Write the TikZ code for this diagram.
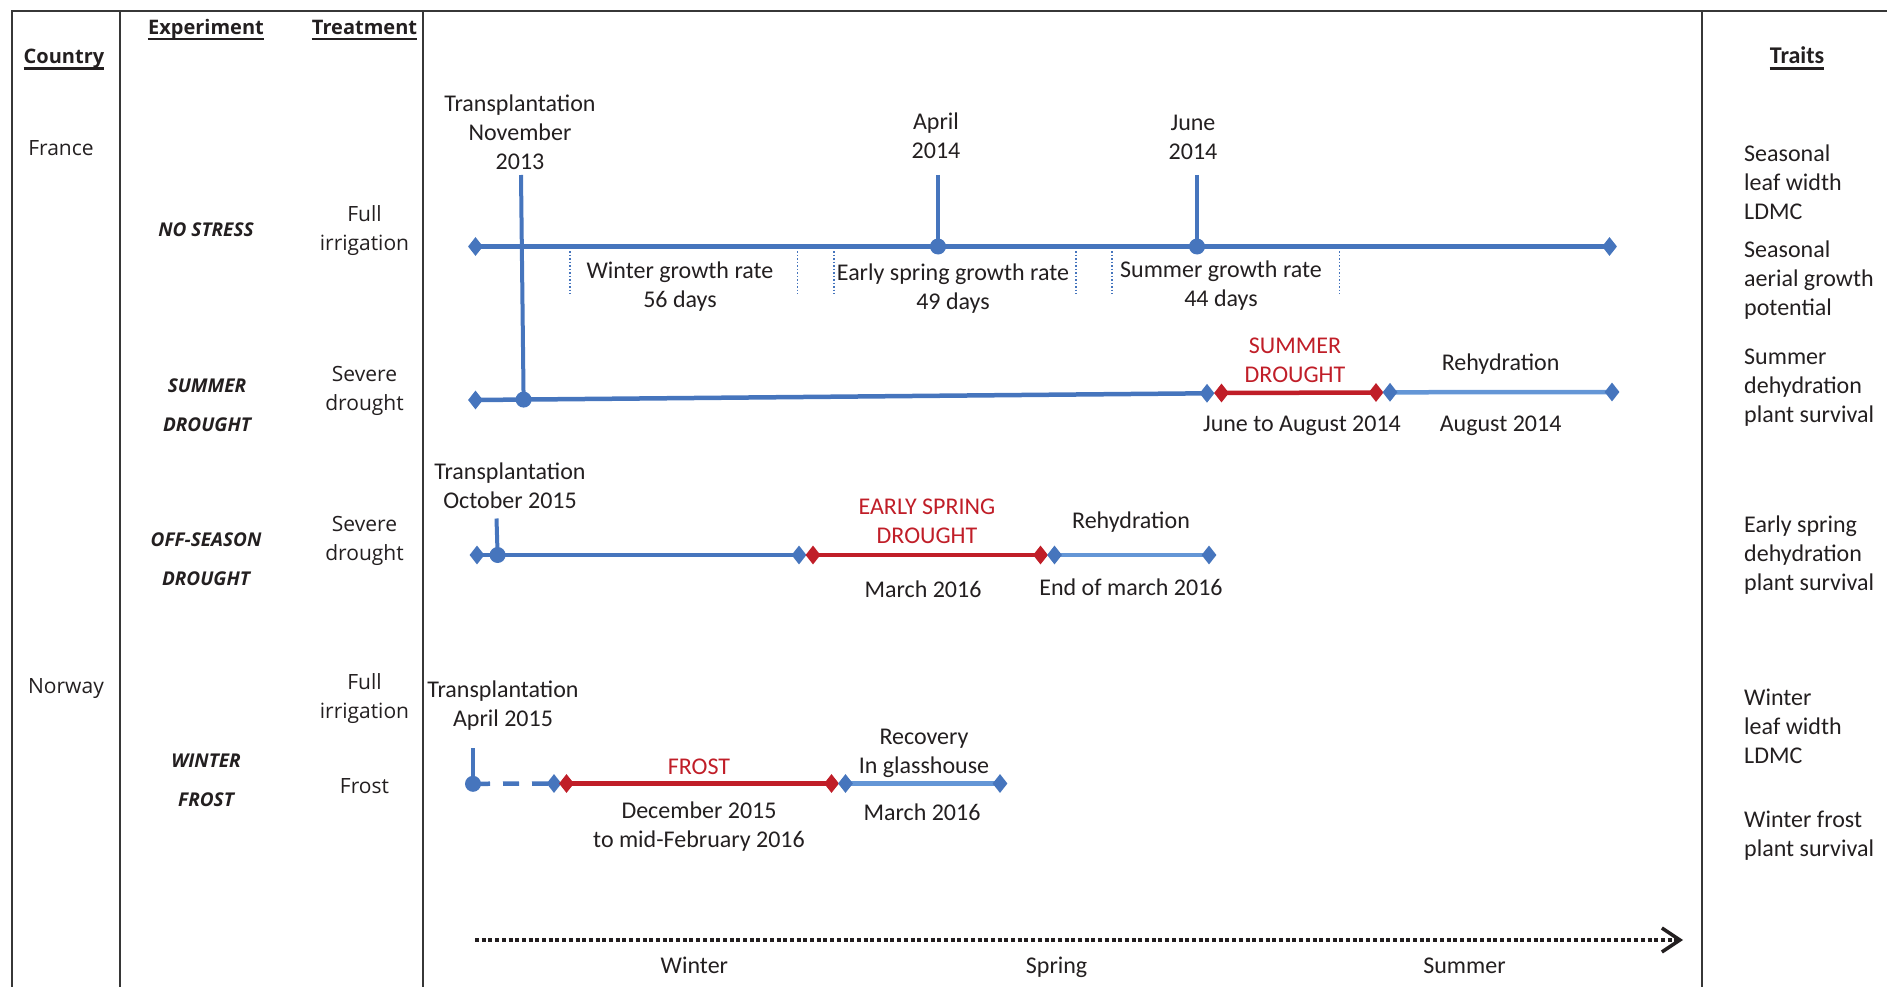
\documentclass[tikz,border=0pt]{standalone}
\usepackage{fontspec}
\setmainfont{Carlito}
\newfontfamily\osans{Open Sans}
\usetikzlibrary{shapes.geometric,arrows.meta,backgrounds}
\definecolor{tblue}{RGB}{70,117,189}
\definecolor{lblue}{RGB}{100,150,214}
\definecolor{tred}{RGB}{192,30,40}
\definecolor{framec}{RGB}{55,55,55}
\definecolor{txt}{RGB}{35,31,32}
\begin{document}
\begin{tikzpicture}[x=1pt,y=-1pt,
  lbl/.style={font=\fontsize{24}{29}\selectfont, align=center, inner sep=0pt, text=txt, yshift=-3.5pt,
    execute at begin node=\strut, execute at end node=\strut},
  redlbl/.style={lbl, text=tred},
  trait/.style={lbl, align=left, anchor=west, yshift=-1.5pt},
  leftt/.style={font=\osans\fontsize{21}{29}\selectfont, align=center, inner sep=0pt, text=txt, yshift=-3pt,
    execute at begin node=\strut, execute at end node=\strut},
  expt/.style={font=\osans\bfseries\itshape\fontsize{19}{39.5}\selectfont, align=center, inner sep=0pt, text=txt,
    execute at begin node=\strut, execute at end node=\strut},
  hdr/.style={font=\osans\bfseries\fontsize{20}{24}\selectfont, inner sep=0pt, anchor=base, text=txt},
  uline/.style={line width=2.7pt, draw=txt},
  framel/.style={line width=2pt, draw=framec},
  dia/.style={diamond, minimum width=15pt, minimum height=19pt, inner sep=0pt, fill=#1},
  dotn/.style={circle, fill=tblue, minimum size=16pt, inner sep=0pt},
  tl/.style={line width=4.5pt, draw=tblue},
  stem/.style={line width=4pt, draw=tblue},
  rl/.style={line width=4.5pt, draw=tred},
  ll/.style={line width=4.5pt, draw=lblue},
  vdot/.style={line width=1.5pt, draw=tblue, dash pattern=on 1.5pt off 2pt},
  timearrow/.style={line width=3.5pt, draw=txt, dash pattern=on 4pt off 2.7pt,
    -{Straight Barb[length=18pt,width=24pt,line width=3.5pt]}}
]
\useasboundingbox (0,0) rectangle (1887,987);

% table frame
\draw[framel] (12,987) -- (12,11) -- (1887,11);
\draw[framel] (120,11) -- (120,987);
\draw[framel] (423,11) -- (423,987);
\draw[framel] (1702,11) -- (1702,987);

% headers
\node[hdr] (hcountry) at (64,64) {Country};
\node[hdr] (hexp) at (206,34.5) {Experiment};
\node[hdr] (htreat) at (364.5,34.5) {Treatment};
\node[hdr, font=\bfseries\fontsize{24}{29}\selectfont] (htraits) at (1797,64) {Traits};
\foreach \h in {hcountry,hexp,htreat,htraits}
  \draw[uline] ([yshift=-4.5pt]\h.base west) -- ([yshift=-4.5pt]\h.base east);

% country column
\node[leftt] (france) at (61,147) {France};
\node[leftt] (norway) at (66,684.5) {Norway};

% experiment column
\node[expt] (e1) at (206,229) {NO STRESS};
\node[expt] (e2) at (207,411) {SUMMER\\DROUGHT};
\node[expt] (e3) at (206,565) {OFF-SEASON\\DROUGHT};
\node[expt] (e4) at (206,786) {WINTER\\FROST};

% treatment column
\node[leftt] (t1) at (364.5,229.5) {Full\\irrigation};
\node[leftt] (t2) at (364.5,389.5) {Severe\\drought};
\node[leftt] (t3) at (364.5,540) {Severe\\drought};
\node[leftt] (t4) at (364.5,697.5) {Full\\irrigation};
\node[leftt] (t5) at (364.5,785) {Frost};

% ---- row 1: no stress
\node[dia=tblue] (r1a) at (475.5,246.5) {};
\node[dia=tblue] (r1b) at (1609.5,246.5) {};
\node[dotn] (r1p1) at (938,246.5) {};
\node[dotn] (r1p2) at (1197,246.5) {};
\coordinate (r0s) at (521,175);
\coordinate (r1s1) at (938,175);
\coordinate (r1s2) at (1197,175);
\node[lbl] (tr1) at (520,133.3) {Transplantation\\November\\2013};
\node[lbl] (apr) at (936,136.5) {April\\2014};
\node[lbl] (jun) at (1193,138.5) {June\\2014};
\node[lbl] (wg) at (680,286) {Winter growth rate\\56 days};
\node[lbl] (eg) at (953,287.5) {Early spring growth rate\\49 days};
\node[lbl] (sg) at (1221,285) {Summer growth rate\\44 days};
\foreach \x in {570,797.5,834,1076,1112,1339.5}
  \draw[vdot] (\x,251) -- (\x,294);

% ---- row 2: summer drought
\node[dia=tblue] (r2a) at (475.5,400) {};
\node[dotn] (r2p) at (523.6,399.6) {};
\node[dia=tblue] (r2b) at (1207,393.3) {};
\node[dia=tred] (r2c) at (1221.5,393) {};
\node[dia=tred] (r2d) at (1376,392.5) {};
\node[dia=tblue] (r2e) at (1390,392.3) {};
\node[dia=tblue] (r2f) at (1612,392) {};
\node[redlbl] (sd) at (1295,361) {SUMMER\\DROUGHT};
\node[lbl] (rh1) at (1500.6,361.5) {Rehydration};
\node[lbl] (ja) at (1302,422.5) {June to August 2014};
\node[lbl] (au) at (1500.6,422.5) {August 2014};

% ---- row 3: off-season drought
\node[dia=tblue] (r3a) at (477,555) {};
\node[dotn] (r3p) at (497.6,555) {};
\coordinate (r3s) at (496.5,518.5);
\node[dia=tblue] (r3b) at (799,555) {};
\node[dia=tred] (r3c) at (813,555) {};
\node[dia=tred] (r3d) at (1040.5,555) {};
\node[dia=tblue] (r3e) at (1054.5,555) {};
\node[dia=tblue] (r3f) at (1209,555) {};
\node[lbl] (tr2) at (510,487) {Transplantation\\October 2015};
\node[redlbl] (es) at (927,522) {EARLY SPRING\\DROUGHT};
\node[lbl] (rh2) at (1131,519) {Rehydration};
\node[lbl] (m16) at (923,588.5) {March 2016};
\node[lbl] (em) at (1131,586) {End of march 2016};

% ---- row 4: winter frost
\node[dotn] (r4p) at (473,783.8) {};
\coordinate (r4s) at (473,748.3);
\node[dia=tblue] (r4b) at (554,783.5) {};
\node[dia=tred] (r4c) at (566.5,783.5) {};
\node[dia=tred] (r4d) at (831.5,783.5) {};
\node[dia=tblue] (r4e) at (845.5,783.5) {};
\node[dia=tblue] (r4f) at (1000,783.5) {};
\node[lbl] (tr3) at (503,705) {Transplantation\\April 2015};
\node[redlbl] (fro) at (699,765.4) {FROST};
\node[lbl] (rec) at (924,752) {Recovery\\In glasshouse};
\node[lbl] (dec) at (699,825.5) {December 2015\\to mid-February 2016};
\node[lbl] (m16b) at (922,811) {March 2016};

% ---- seasons arrow
\coordinate (ta) at (475,940);
\coordinate (tb) at (1683,940);
\draw[timearrow] (ta) -- (tb);
\node[lbl] (win) at (694.4,964) {Winter};
\node[lbl] (spr) at (1056.6,964) {Spring};
\node[lbl] (sum) at (1464.5,964) {Summer};

% ---- traits
\node[trait] (tr_a) at (1744,181.7) {Seasonal\\leaf width\\LDMC};
\node[trait] (tr_b) at (1744,278) {Seasonal\\aerial growth\\potential};
\node[trait] (tr_c) at (1744,385) {Summer\\dehydration\\plant survival};
\node[trait] (tr_d) at (1744,552.4) {Early spring\\dehydration\\plant survival};
\node[trait] (tr_e) at (1744,725.6) {Winter\\leaf width\\LDMC};
\node[trait] (tr_f) at (1744,832.8) {Winter frost\\plant survival};

% ---- connectors (behind markers)
\begin{scope}[on background layer]
  \draw[tl] (r1a.center) -- (r1b.center);
  \draw[stem] (r0s) -- (r2p.center);
  \draw[stem] (r1s1) -- (r1p1.center);
  \draw[stem] (r1s2) -- (r1p2.center);
  \draw[tl] (r2a.center) -- (r2b.center);
  \draw[rl] (r2c.center) -- (r2d.center);
  \draw[ll] (r2e.center) -- (r2f.center);
  \draw[stem] (r3s) -- (r3p.center);
  \draw[tl] (r3a.center) -- (r3b.center);
  \draw[rl] (r3c.center) -- (r3d.center);
  \draw[ll] (r3e.center) -- (r3f.center);
  \draw[stem] (r4s) -- (r4p.center);
  \draw[tl, dash pattern=on 16pt off 13pt, dash phase=-1pt] (r4p.center) -- (r4b.center);
  \draw[rl] (r4c.center) -- (r4d.center);
  \draw[ll] (r4e.center) -- (r4f.center);
\end{scope}
\end{tikzpicture}
\end{document}
